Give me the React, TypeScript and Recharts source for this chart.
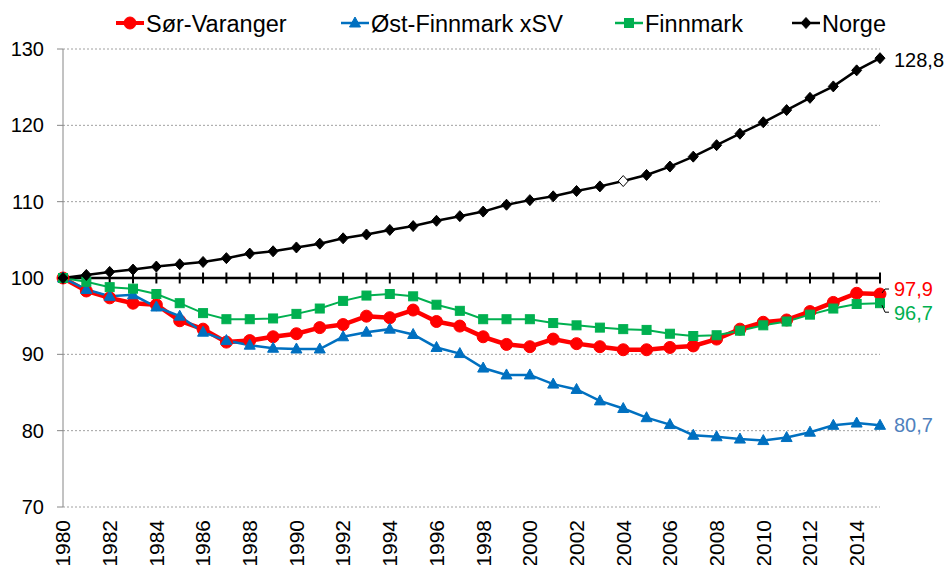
import {
  LineChart,
  Line,
  XAxis,
  YAxis,
  CartesianGrid,
  ReferenceLine,
  LabelList,
} from "recharts";

const years = [
  1980, 1981, 1982, 1983, 1984, 1985, 1986, 1987, 1988, 1989, 1990, 1991,
  1992, 1993, 1994, 1995, 1996, 1997, 1998, 1999, 2000, 2001, 2002, 2003,
  2004, 2005, 2006, 2007, 2008, 2009, 2010, 2011, 2012, 2013, 2014, 2015,
];

const sorVaranger = [
  100, 98.3, 97.4, 96.7, 96.5, 94.4, 93.3, 91.6, 91.8, 92.3, 92.7, 93.5,
  93.9, 95.0, 94.8, 95.8, 94.3, 93.7, 92.3, 91.3, 91.0, 92.0, 91.4, 91.0,
  90.6, 90.6, 90.9, 91.1, 92.0, 93.3, 94.2, 94.5, 95.6, 96.8, 98.0, 97.9,
];
const ostFinnmark = [
  100, 98.5, 97.6, 97.8, 96.2, 95.0, 92.9, 91.8, 91.2, 90.8, 90.7, 90.7,
  92.3, 92.9, 93.3, 92.6, 90.9, 90.1, 88.2, 87.3, 87.3, 86.1, 85.4, 83.9,
  82.9, 81.7, 80.8, 79.4, 79.2, 78.9, 78.7, 79.1, 79.8, 80.7, 81.0, 80.7,
];
const finnmark = [
  100, 99.5, 98.8, 98.6, 97.9, 96.7, 95.4, 94.6, 94.6, 94.7, 95.3, 96.0,
  97.0, 97.7, 97.9, 97.6, 96.5, 95.7, 94.6, 94.6, 94.6, 94.1, 93.8, 93.5,
  93.3, 93.2, 92.7, 92.4, 92.5, 93.1, 93.8, 94.3, 95.2, 96.0, 96.6, 96.7,
];
const norge = [
  100, 100.4, 100.8, 101.1, 101.5, 101.8, 102.1, 102.6, 103.2, 103.5, 104.0,
  104.5, 105.2, 105.7, 106.3, 106.8, 107.5, 108.1, 108.7, 109.6, 110.2, 110.7,
  111.4, 112.0, 112.7, 113.5, 114.6, 115.9, 117.4, 118.9, 120.4, 122.0, 123.6,
  125.1, 127.2, 128.8,
];

const yTicks = [70, 80, 90, 100, 110, 120, 130];
const xTicks = [
  1980, 1982, 1984, 1986, 1988, 1990, 1992, 1994, 1996, 1998, 2000, 2002,
  2004, 2006, 2008, 2010, 2012, 2014,
];
// Norge 2004 is drawn with an open marker in the original
const openMarkerYear = 2004;

const legendItems = [
  { name: "Sør-Varanger", color: "#FF0000", shape: "circle", left: 116 },
  { name: "Øst-Finnmark xSV", color: "#0070C0", shape: "triangle", left: 341 },
  { name: "Finnmark", color: "#00B050", shape: "square", left: 615 },
  { name: "Norge", color: "#000000", shape: "diamond", left: 792 },
];

const data = years.map((year, i) => ({
  year,
  sv: sorVaranger[i],
  of: ostFinnmark[i],
  fm: finnmark[i],
  no: norge[i],
}));

const FONT = '"Liberation Sans", Arial, sans-serif';
const last = years.length - 1;

function marker(shape: string, cx: number, cy: number, color: string, fill?: string) {
  const f = fill ?? color;
  if (shape === "circle") return <circle cx={cx} cy={cy} r={6} fill={f} stroke={color} />;
  if (shape === "triangle")
    return (
      <path
        d={`M${cx},${cy - 6} L${cx + 5.5},${cy + 4} L${cx - 5.5},${cy + 4} Z`}
        fill={f}
        stroke={color}
      />
    );
  if (shape === "square")
    return <rect x={cx - 4.5} y={cy - 4.5} width={9} height={9} fill={f} stroke={color} />;
  return (
    <path
      d={`M${cx},${cy - 5.5} L${cx + 5},${cy} L${cx},${cy + 5.5} L${cx - 5},${cy} Z`}
      fill={f}
      stroke={color}
      strokeWidth={1}
    />
  );
}

const makeDot = (shape: string, color: string) => (p: any) => {
  const open = shape === "diamond" && p.payload && p.payload.year === openMarkerYear;
  return <g key={`d-${shape}-${p.index}`}>{marker(shape, p.cx, p.cy, color, open ? "#fff" : undefined)}</g>;
};

const XTick = ({ x, y, payload }: any) => (
  <text
    x={x}
    y={y}
    transform={`rotate(-90 ${x} ${y})`}
    textAnchor="end"
    dy="0.35em"
    fontSize={21}
    fontFamily={FONT}
    fill="#000"
  >
    {payload.value}
  </text>
);

const endLabel = (color: string, dy: number, leader?: "up" | "down") => (p: any) => {
  if (p.index !== last) return null;
  const x = Number(p.x);
  const y = Number(p.y);
  const text = String(p.value).replace(".", ",");
  return (
    <g>
      {leader === "up" && (
        <polyline points={`${x + 2},${y - 1} ${x + 5},${y - 5} ${x + 9},${y - 5}`} fill="none" stroke="#000" strokeWidth={1} />
      )}
      {leader === "down" && (
        <polyline points={`${x + 2},${y + 2} ${x + 5},${y + 9} ${x + 9},${y + 9}`} fill="none" stroke="#000" strokeWidth={1} />
      )}
      <text x={x + 14} y={y + dy} dy="0.35em" fontSize={20} fontFamily={FONT} fill={color}>
        {text}
      </text>
    </g>
  );
};

export default function App() {
  return (
    <div style={{ position: "absolute", left: 0, top: 0, width: 948, height: 565, background: "#fff", overflow: "hidden" }}>
      <LineChart width={948} height={565} data={data} margin={{ top: 49, right: 68, bottom: 0, left: 0 }}>
        <CartesianGrid horizontal vertical={false} stroke="#a0a0a0" strokeDasharray="2 2" />
        <XAxis
          dataKey="year"
          type="number"
          domain={[1980, 2015]}
          ticks={xTicks}
          interval={0}
          height={58}
          axisLine={false}
          tickLine={false}
          tickSize={0}
          tickMargin={13}
          tick={<XTick />}
        />
        <YAxis
          domain={[70, 130]}
          ticks={yTicks}
          width={63}
          stroke="#868686"
          tickSize={6}
          tickMargin={13}
          tick={{ fill: "#000", fontSize: 20, fontFamily: FONT }}
          interval={0}
        />
        <ReferenceLine y={100} stroke="#000" strokeWidth={2.5} />
        {years.map((yr) => (
          <ReferenceLine
            key={`t-${yr}`}
            segment={[
              { x: yr, y: 99.28 },
              { x: yr, y: 100.72 },
            ]}
            stroke="#000"
            strokeWidth={2}
          />
        ))}
        <Line dataKey="sv" stroke="#FF0000" strokeWidth={4.5} dot={makeDot("circle", "#FF0000")} isAnimationActive={false}>
          <LabelList dataKey="sv" content={endLabel("#FF0000", -5, "up")} />
        </Line>
        <Line dataKey="of" stroke="#0070C0" strokeWidth={2.5} dot={makeDot("triangle", "#0070C0")} isAnimationActive={false}>
          <LabelList dataKey="of" content={endLabel("#4F81BD", 0)} />
        </Line>
        <Line dataKey="fm" stroke="#00B050" strokeWidth={2} dot={makeDot("square", "#00B050")} isAnimationActive={false}>
          <LabelList dataKey="fm" content={endLabel("#00B050", 10, "down")} />
        </Line>
        <Line dataKey="no" stroke="#000" strokeWidth={2.5} dot={makeDot("diamond", "#000")} isAnimationActive={false}>
          <LabelList dataKey="no" content={endLabel("#000", 2)} />
        </Line>
      </LineChart>
      <svg width={948} height={45} style={{ position: "absolute", left: 0, top: 0 }}>
        {legendItems.map((it) => (
          <g key={it.name}>
            <line x1={it.left} x2={it.left + 28} y1={23} y2={23} stroke={it.color} strokeWidth={it.shape === "circle" ? 4 : 2.5} />
            {marker(it.shape, it.left + 14, 23, it.color)}
            <text x={it.left + 30} y={32} fontSize={23.5} fontFamily={FONT} fill="#000">
              {it.name}
            </text>
          </g>
        ))}
      </svg>
    </div>
  );
}
